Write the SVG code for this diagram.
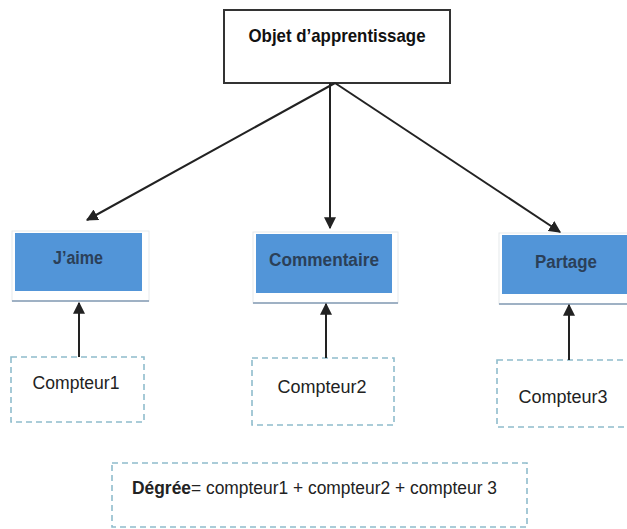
<svg xmlns="http://www.w3.org/2000/svg" width="627" height="529" viewBox="0 0 627 529">
  <defs>
    <marker id="arrow" viewBox="0 0 10 10" refX="9" refY="5" markerWidth="12" markerHeight="12" markerUnits="userSpaceOnUse" orient="auto">
      <path d="M0,0 L10,5 L0,10 Z" fill="#222"/>
    </marker>
    <style>
      .root { fill: #fff; stroke: #333; stroke-width: 2; }
      .blue { fill: #5295d8; }
      .shadow { fill: #fff; stroke: #e6e9ec; stroke-width: 1; }
      .base { stroke: #9fb1c4; stroke-width: 2; }
      .dash { fill: #fff; stroke: #8fbccc; stroke-width: 1.6; stroke-dasharray: 6 4; }
      .edge { stroke: #222; stroke-width: 2; fill: none; marker-end: url(#arrow); }
      text { font-family: "Liberation Sans", Arial, sans-serif; }
      .title { font-size: 19px; font-weight: bold; fill: #111; }
      .label { font-size: 18px; font-weight: bold; fill: #2b4058; }
      .count { font-size: 18px; fill: #222; }
      .formula { font-size: 18px; fill: #222; }
    </style>
  </defs>

  <g id="objet">
    <rect class="root" x="224" y="10" width="226" height="73"/>
    <text class="title" x="337" y="42" text-anchor="middle" textLength="177" lengthAdjust="spacingAndGlyphs">Objet d’apprentissage</text>
  </g>

  <g id="jaime">
    <rect class="shadow" x="12" y="231" width="137" height="70"/>
    <line class="base" x1="12" y1="301" x2="149" y2="301"/>
    <rect class="blue" x="15" y="233" width="127" height="58"/>
    <text class="label" x="78" y="264" text-anchor="middle" textLength="50" lengthAdjust="spacingAndGlyphs">J’aime</text>
  </g>

  <g id="commentaire">
    <rect class="shadow" x="253" y="232" width="145" height="71"/>
    <line class="base" x1="253" y1="303" x2="398" y2="303"/>
    <rect class="blue" x="256" y="234" width="136" height="59"/>
    <text class="label" x="324" y="266" text-anchor="middle" textLength="110" lengthAdjust="spacingAndGlyphs">Commentaire</text>
  </g>

  <g id="partage">
    <rect class="shadow" x="499" y="233" width="132" height="71"/>
    <line class="base" x1="499" y1="304" x2="627" y2="304"/>
    <rect class="blue" x="502" y="235" width="125" height="59"/>
    <text class="label" x="566" y="268" text-anchor="middle" textLength="62" lengthAdjust="spacingAndGlyphs">Partage</text>
  </g>

  <g id="compteur1">
    <rect class="dash" x="11" y="357" width="133" height="65"/>
    <text class="count" x="76" y="389" text-anchor="middle" textLength="87" lengthAdjust="spacingAndGlyphs">Compteur1</text>
  </g>

  <g id="compteur2">
    <rect class="dash" x="252" y="358" width="142" height="67"/>
    <text class="count" x="322" y="393" text-anchor="middle" textLength="89" lengthAdjust="spacingAndGlyphs">Compteur2</text>
  </g>

  <g id="compteur3">
    <rect class="dash" x="497" y="360" width="140" height="67"/>
    <text class="count" x="563" y="403" text-anchor="middle" textLength="89" lengthAdjust="spacingAndGlyphs">Compteur3</text>
  </g>

  <g id="degree">
    <rect class="dash" x="112" y="463" width="415" height="64"/>
    <text class="formula" x="132" y="494" textLength="365" lengthAdjust="spacingAndGlyphs"><tspan font-weight="bold">Dégrée</tspan>= compteur1 + compteur2 + compteur 3</text>
  </g>

  <g id="connectors">
    <line class="edge" x1="335" y1="83" x2="87" y2="220"/>
    <line class="edge" x1="330" y1="83" x2="330" y2="228"/>
    <line class="edge" x1="335" y1="83" x2="560" y2="232"/>
    <line class="edge" x1="79" y1="357" x2="79" y2="303"/>
    <line class="edge" x1="326" y1="358" x2="326" y2="304"/>
    <line class="edge" x1="569" y1="360" x2="569" y2="305"/>
  </g>
</svg>
